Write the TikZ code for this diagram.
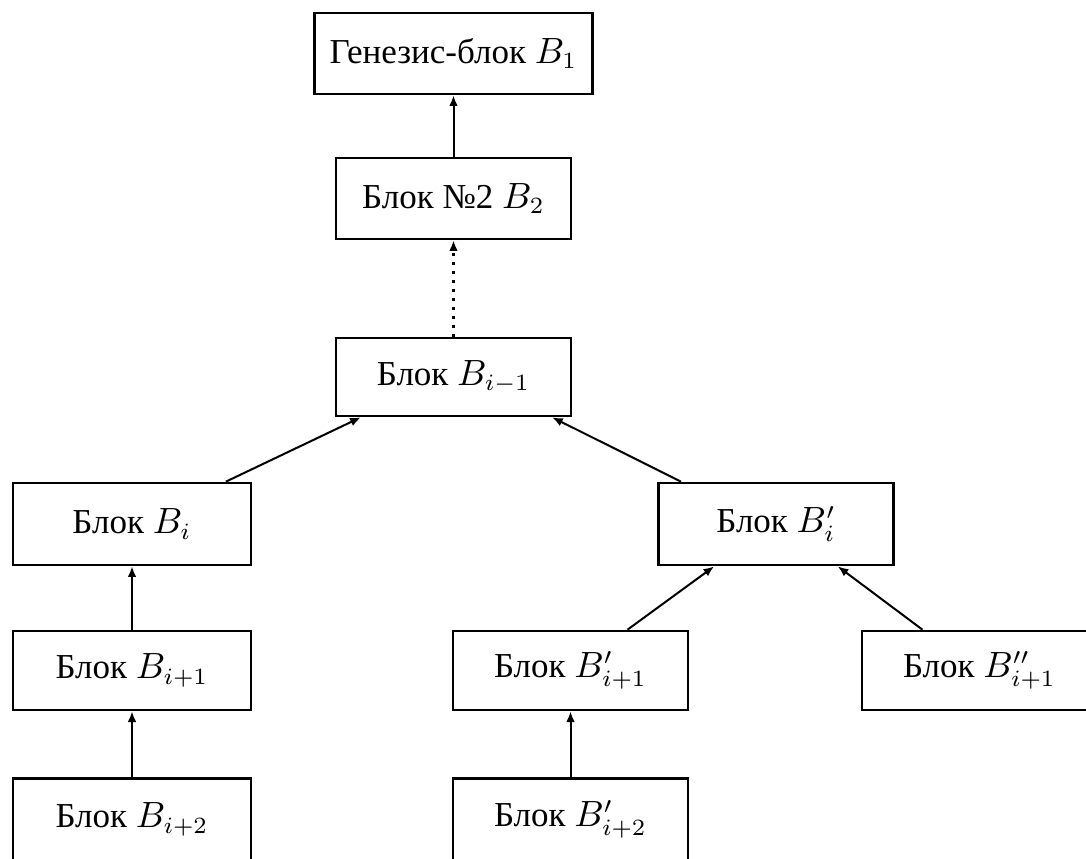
\documentclass[tikz,border=0pt]{standalone}
\usepackage[no-math]{fontspec}
\setmainfont{Liberation Serif}
\usetikzlibrary{arrows.meta,calc}
\tikzset{
  blockbox/.style={draw, line width=0.8pt, inner sep=0pt, minimum width=70.5pt, minimum height=24pt, font=\fontsize{10.5}{12}\selectfont},
  link/.style={line width=0.6pt, -{Latex[length=3.2pt,width=2.6pt]}},
  dotlink/.style={line width=0.7pt, dotted, -{Latex[length=3.2pt,width=2.6pt]}}
}
\begin{document}
\begin{tikzpicture}[x=0.3pt,y=-0.3pt]
\useasboundingbox (0,0) rectangle (1086,859);
\clip (0,0) rectangle (1086,859);
\node[blockbox, minimum width=83.4pt, minimum height=24.3pt] (G) at (453.5,53.5) {Генезис-блок $B_1$};
\node[blockbox, minimum height=24.3pt] (B2) at (453.5,198.5) {Блок №2 $B_2$};
\node[blockbox, minimum height=23.4pt] (Bim1) at (453.5,377) {Блок $B_{i-1}$};
\node[blockbox, minimum width=71.4pt, minimum height=24.6pt] (Bi) at (132,524) {Блок $B_i$};
\node[blockbox, minimum height=24.6pt] (Bpi) at (776,524) {Блок $B'_i$};
\node[blockbox, minimum width=71.4pt, minimum height=23.7pt] (Bi1) at (132,670.5) {Блок $B_{i+1}$};
\node[blockbox, minimum height=23.7pt] (Bpi1) at (570.5,670.5) {Блок $B'_{i+1}$};
\node[blockbox, minimum height=23.7pt] (Bppi1) at (979.5,670.5) {Блок $B''_{i+1}$};
\node[blockbox, minimum width=71.4pt, minimum height=24.6pt] (Bi2) at (132,819.5) {Блок $B_{i+2}$};
\node[blockbox, minimum height=24.6pt] (Bpi2) at (570.5,819.5) {Блок $B'_{i+2}$};

\draw[link] (B2) -- (G);
\draw[dotlink] (Bim1) -- (B2);
\draw[link] ($(Bi.north west)!0.89!(Bi.north east)$) -- ($(Bim1.south west)!0.11!(Bim1.south east)$);
\draw[link] ($(Bpi.north west)!0.10!(Bpi.north east)$) -- ($(Bim1.south west)!0.915!(Bim1.south east)$);
\draw[link] (Bi1) -- (Bi);
\draw[link] (Bi2) -- (Bi1);
\draw[link] ($(Bpi1.north west)!0.74!(Bpi1.north east)$) -- ($(Bpi.south west)!0.24!(Bpi.south east)$);
\draw[link] ($(Bppi1.north west)!0.26!(Bppi1.north east)$) -- ($(Bpi.south west)!0.76!(Bpi.south east)$);
\draw[link] (Bpi2) -- (Bpi1);
\end{tikzpicture}
\end{document}
